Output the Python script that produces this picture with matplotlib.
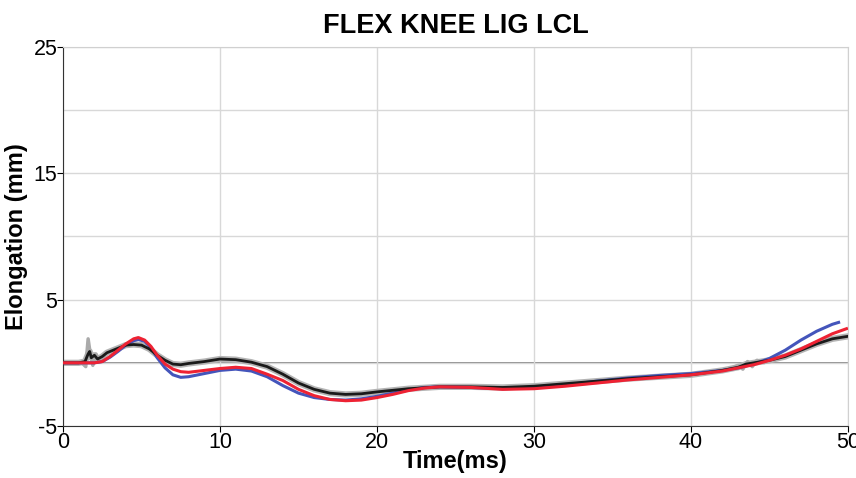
import numpy as np
import matplotlib.pyplot as plt

plt.rcParams['font.family'] = ['Liberation Sans', 'DejaVu Sans']
plt.rcParams['axes.unicode_minus'] = False

# time axis (ms) for each curve
t_black = [0, 1.0, 1.4, 1.6, 1.7, 1.8, 2.0, 2.2, 2.5, 2.8, 3.2, 3.6, 4.0, 4.5, 5.0, 5.5, 6.0, 6.5,
           7.0, 7.5, 8.0, 9.0, 10.0, 11.0, 12.0, 13.0, 14.0, 15.0, 16.0, 17.0, 18.0, 19.0,
           20.0, 22.0, 24.0, 26.0, 28.0, 30.0, 32.0, 34.0, 36.0, 38.0, 40.0, 42.0, 43.0,
           43.5, 44.0, 45.0, 46.0, 47.0, 48.0, 49.0, 50.0]
black = [0, 0, 0.1, 0.7, 0.9, 0.4, 0.6, 0.3, 0.5, 0.8, 1.0, 1.2, 1.4, 1.45, 1.4, 1.1, 0.6, 0.2,
         -0.1, -0.15, -0.05, 0.1, 0.3, 0.25, 0.05, -0.3, -0.9, -1.6, -2.1, -2.4, -2.5, -2.45,
         -2.3, -2.05, -1.9, -1.9, -1.95, -1.85, -1.65, -1.45, -1.25, -1.1, -0.95, -0.6, -0.35,
         -0.1, 0.0, 0.2, 0.5, 1.0, 1.5, 1.9, 2.1]
# grey shadow (individual trials) around the black curve
t_grey = [0, 1.2, 1.45, 1.6, 1.75, 1.9, 2.1, 2.3, 2.6]
grey = [0, 0, -0.3, 1.9, 0.6, -0.2, 0.7, 0.2, 0.5]
t_grey2 = [42.5, 43.0, 43.3, 43.6, 43.9, 44.2, 44.6]
grey2 = [-0.45, -0.2, -0.5, 0.1, -0.3, 0.2, 0.05]

t_red = [0, 2.0, 2.5, 3.0, 3.5, 4.0, 4.5, 4.8, 5.2, 5.6, 6.0, 6.5, 7.0, 7.5, 8.0, 9.0, 10.0,
         11.0, 12.0, 13.0, 14.0, 15.0, 16.0, 17.0, 18.0, 19.0, 20.0, 21.0, 22.0, 23.0, 24.0,
         26.0, 28.0, 30.0, 32.0, 34.0, 36.0, 38.0, 40.0, 42.0, 43.0, 44.0, 45.0, 46.0, 47.0,
         48.0, 49.0, 49.9]
red = [0, 0, 0.1, 0.5, 1.0, 1.5, 1.9, 2.0, 1.8, 1.3, 0.6, -0.1, -0.5, -0.7, -0.75, -0.6, -0.45,
       -0.35, -0.45, -0.9, -1.4, -2.1, -2.6, -2.9, -3.0, -2.95, -2.75, -2.5, -2.2, -2.0, -1.9,
       -1.95, -2.1, -2.05, -1.85, -1.6, -1.35, -1.15, -0.95, -0.65, -0.4, -0.15, 0.2, 0.6, 1.1,
       1.7, 2.3, 2.7]

t_blue = [0, 2.0, 2.5, 3.0, 3.5, 4.0, 4.5, 4.8, 5.2, 5.6, 6.0, 6.5, 7.0, 7.5, 8.0, 9.0, 10.0,
          11.0, 12.0, 13.0, 14.0, 15.0, 16.0, 17.0, 18.0, 19.0, 20.0, 21.0, 22.0, 23.0, 24.0,
          26.0, 28.0, 30.0, 32.0, 34.0, 36.0, 38.0, 40.0, 42.0, 43.0, 44.0, 45.0, 46.0, 47.0,
          48.0, 49.0, 49.4]
blue = [0, 0, 0.1, 0.45, 0.9, 1.4, 1.75, 1.85, 1.7, 1.2, 0.4, -0.4, -0.95, -1.15, -1.1, -0.85, -0.6,
        -0.5, -0.65, -1.1, -1.8, -2.4, -2.75, -2.9, -2.95, -2.85, -2.65, -2.4, -2.15, -1.95, -1.9,
        -1.95, -2.05, -1.95, -1.75, -1.45, -1.2, -1.0, -0.85, -0.6, -0.4, -0.1, 0.35, 1.0, 1.8,
        2.5, 3.05, 3.2]

fig = plt.figure(figsize=(8.56, 4.78), dpi=100)
ax = fig.add_axes([0.0736, 0.1088, 0.9171, 0.7929])

# grid and zero line
ax.set_xlim(0, 50)
ax.set_ylim(-5, 25)
ax.set_xticks(np.arange(0, 51, 10))
ax.set_yticks([-5, 5, 15, 25])
ax.set_yticks([0, 10, 20], minor=True)
ax.grid(True, which='both', color='#d8d8d8', lw=1)
ax.tick_params(which='minor', length=0)
ax.axhline(0, color='#777777', lw=1.2, zorder=1)

ax.plot(t_black, black, color='#b4b4b4', lw=4.5, solid_capstyle='round', zorder=2)
ax.plot(t_grey, grey, color='#aaaaaa', lw=2.5, zorder=2)
ax.plot(t_grey2, grey2, color='#aaaaaa', lw=2.5, zorder=2)
ax.plot(t_blue, blue, color='#4455bb', lw=2.2, zorder=3)
ax.plot(t_black, black, color='#1a1a1a', lw=2.0, zorder=4)
ax.plot(t_red, red, color='#ee2233', lw=2.2, zorder=5)

for s in ['top', 'right']:
    ax.spines[s].set_color('#d0d0d0')
for s in ['left', 'bottom']:
    ax.spines[s].set_color('#333333')

ax.tick_params(labelsize=15.5, length=4, pad=0)
ax.set_xlabel('Time(ms)', fontsize=17, fontweight='bold', labelpad=-2)
ax.set_ylabel('Elongation (mm)', fontsize=17, fontweight='bold', labelpad=4)
ax.set_title('FLEX KNEE LIG LCL', fontsize=19.5, fontweight='bold', pad=10)

fig.savefig('out.png', dpi=100)
